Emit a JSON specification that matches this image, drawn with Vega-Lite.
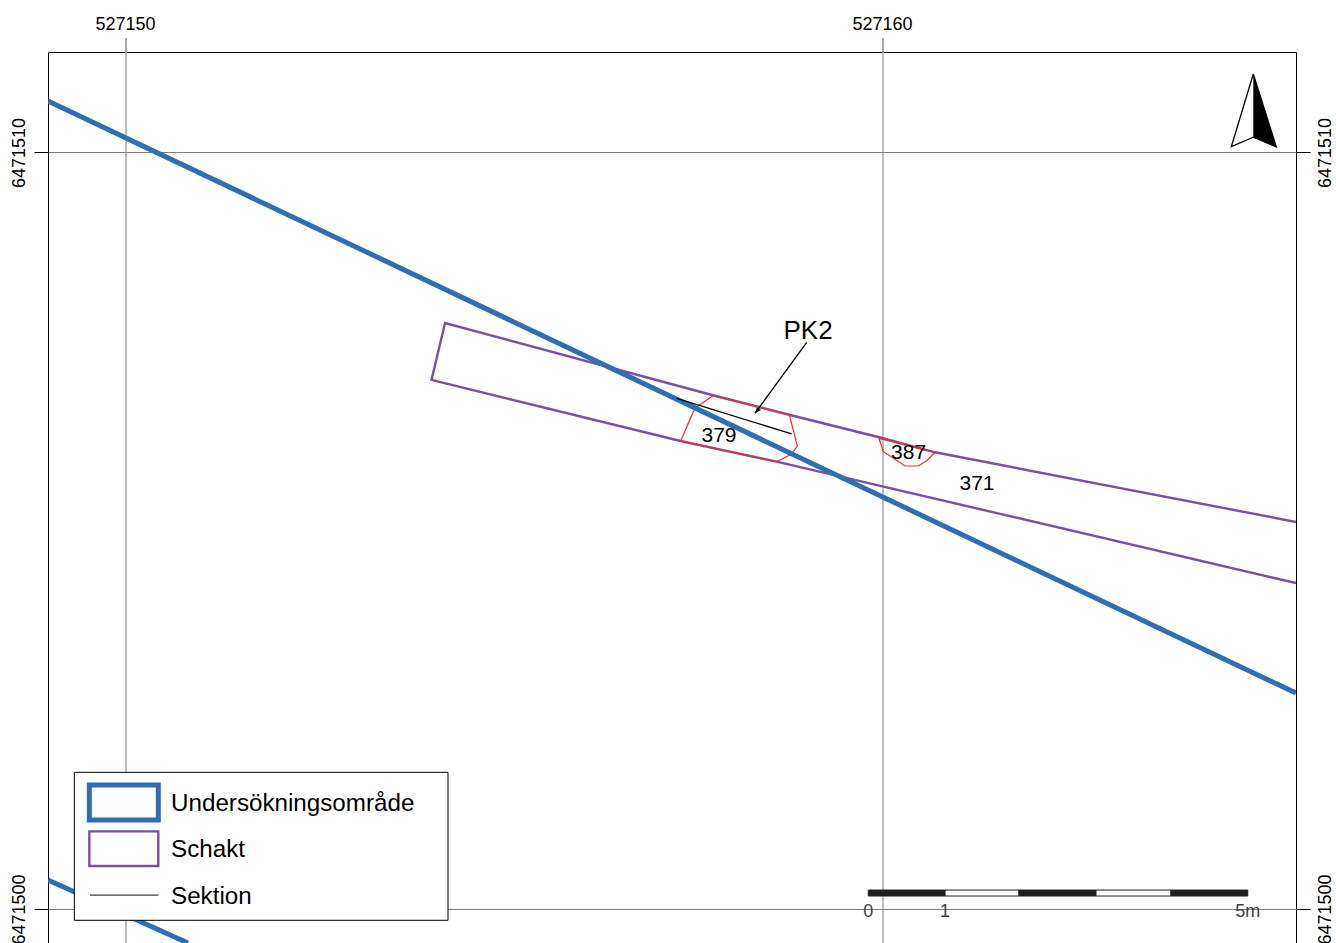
{"$schema":"https://vega.github.io/schema/vega-lite/v6.json","width":1248,"height":891,"autosize":"none","padding":{"left":48,"top":52,"right":40,"bottom":0},"background":"#ffffff","view":{"stroke":"#000000","strokeWidth":1,"fill":"#ffffff"},
"datasets":{
"lines":[
{"part":"schakt1","feature":"Schakt","seq":1,"x":527165.462,"y":6471505.116},
{"part":"schakt1","feature":"Schakt","seq":2,"x":527160.694,"y":6471506.037},
{"part":"schakt1","feature":"Schakt","seq":3,"x":527159.993,"y":6471506.226},
{"part":"schakt1","feature":"Schakt","seq":4,"x":527158.778,"y":6471506.53},
{"part":"schakt1","feature":"Schakt","seq":5,"x":527157.748,"y":6471506.794},
{"part":"schakt1","feature":"Schakt","seq":6,"x":527154.221,"y":6471507.746},
{"part":"schakt1","feature":"Schakt","seq":7,"x":527154.042,"y":6471506.993},
{"part":"schakt1","feature":"Schakt","seq":8,"x":527157.332,"y":6471506.186},
{"part":"schakt1","feature":"Schakt","seq":9,"x":527158.602,"y":6471505.913},
{"part":"schakt1","feature":"Schakt","seq":10,"x":527165.462,"y":6471504.309},
{"part":"k379","feature":"Kontext","seq":1,"x":527157.761,"y":6471506.785},
{"part":"k379","feature":"Kontext","seq":2,"x":527158.769,"y":6471506.534},
{"part":"k379","feature":"Kontext","seq":3,"x":527158.875,"y":6471506.12},
{"part":"k379","feature":"Kontext","seq":4,"x":527158.801,"y":6471506.015},
{"part":"k379","feature":"Kontext","seq":5,"x":527158.602,"y":6471505.913},
{"part":"k379","feature":"Kontext","seq":6,"x":527157.334,"y":6471506.186},
{"part":"k379","feature":"Kontext","seq":7,"x":527157.501,"y":6471506.574},
{"part":"k379","feature":"Kontext","seq":8,"x":527157.567,"y":6471506.653},
{"part":"k379","feature":"Kontext","seq":9,"x":527157.761,"y":6471506.785},
{"part":"k387","feature":"Kontext","seq":1,"x":527159.954,"y":6471506.222},
{"part":"k387","feature":"Kontext","seq":2,"x":527160.011,"y":6471506.045},
{"part":"k387","feature":"Kontext","seq":3,"x":527160.297,"y":6471505.856},
{"part":"k387","feature":"Kontext","seq":4,"x":527160.473,"y":6471505.856},
{"part":"k387","feature":"Kontext","seq":5,"x":527160.584,"y":6471505.926},
{"part":"k387","feature":"Kontext","seq":6,"x":527160.694,"y":6471506.037},
{"part":"k387","feature":"Kontext","seq":7,"x":527159.954,"y":6471506.222},
{"part":"omr1","feature":"Undersökningsområde","seq":1,"x":527148.976,"y":6471510.681},
{"part":"omr1","feature":"Undersökningsområde","seq":2,"x":527165.462,"y":6471502.855},
{"part":"omr2","feature":"Undersökningsområde","seq":1,"x":527148.976,"y":6471500.383},
{"part":"omr2","feature":"Undersökningsområde","seq":2,"x":527150.826,"y":6471499.551},
{"part":"sek1","feature":"Sektion","seq":1,"x":527157.281,"y":6471506.751},
{"part":"sek1","feature":"Sektion","seq":2,"x":527158.801,"y":6471506.279},
{"part":"call","feature":"Sektion","seq":1,"x":527158.999,"y":6471507.491},
{"part":"call","feature":"Sektion","seq":2,"x":527158.316,"y":6471506.553},
{"part":"north","feature":"Sektion","seq":1,"x":527164.898,"y":6471511.038},
{"part":"north","feature":"Sektion","seq":2,"x":527164.608,"y":6471510.077},
{"part":"north","feature":"Sektion","seq":3,"x":527164.898,"y":6471510.201},
{"part":"north","feature":"Sektion","seq":4,"x":527165.202,"y":6471510.073},
{"part":"north","feature":"Sektion","seq":5,"x":527164.898,"y":6471511.038}
],
"fills":[
{"part":"head","x":527158.316,"y":6471506.553,"y2":6471506.553},
{"part":"head","x":527158.342,"y":6471506.629,"y2":6471506.57},
{"part":"head","x":527158.395,"y":6471506.596,"y2":6471506.596},
{"part":"north","x":527164.898,"y":6471511.038,"y2":6471510.201},
{"part":"north","x":527165.202,"y":6471510.073,"y2":6471510.073}
],
"boxes":[
{"kind":"legend","x":527149.324,"x2":527154.26,"y":6471501.807,"y2":6471499.851},
{"kind":"Undersökningsområde","x":527149.522,"x2":527150.433,"y":6471501.639,"y2":6471501.176},
{"kind":"Schakt","x":527149.522,"x2":527150.433,"y":6471501.027,"y2":6471500.568},
{"kind":"black","x":527159.812,"x2":527160.826,"y":6471500.251,"y2":6471500.172},
{"kind":"white","x":527160.826,"x2":527161.803,"y":6471500.251,"y2":6471500.172},
{"kind":"black","x":527161.803,"x2":527162.82,"y":6471500.251,"y2":6471500.172},
{"kind":"white","x":527162.82,"x2":527163.811,"y":6471500.251,"y2":6471500.172},
{"kind":"black","x":527163.811,"x2":527164.825,"y":6471500.251,"y2":6471500.172}
],
"keyline":[
{"seq":1,"x":527149.531,"y":6471500.185},
{"seq":2,"x":527150.433,"y":6471500.185}
],
"labels":[
{"group":"map","text":"379","x":527157.84,"y":6471506.266},
{"group":"map","text":"387","x":527160.344,"y":6471506.041},
{"group":"map","text":"371","x":527161.248,"y":6471505.631},
{"group":"title","text":"PK2","x":527159.016,"y":6471507.654},
{"group":"legend","text":"Undersökningsområde","x":527150.601,"y":6471501.401},
{"group":"legend","text":"Schakt","x":527150.601,"y":6471500.793},
{"group":"legend","text":"Sektion","x":527150.601,"y":6471500.178},
{"group":"scale","text":"0","x":527159.812,"y":6471499.96},
{"group":"scale","text":"1","x":527160.826,"y":6471499.96},
{"group":"scale","text":"5m","x":527164.825,"y":6471499.96}
]},
"encoding":{"x":{"field":"x","type":"quantitative","scale":{"domain":[527148.976,527165.462],"nice":false,"zero":false},"axis":{"orient":"top","values":[527150,527160],"format":"d","title":null,"domain":false,"grid":true,"gridColor":"#a8a8a8","gridWidth":1.5,"tickColor":"#8c8c8c","tickWidth":1.5,"tickSize":14,"translate":0,"labelFont":"Liberation Sans","labelFontSize":18,"labelColor":"#000000","labelPadding":4}}},
"layer":[
{"data":{"name":"lines"},"mark":{"type":"line","clip":true,"strokeJoin":"miter","strokeMiterLimit":10},
"encoding":{
"y":{"field":"y","type":"quantitative","scale":{"domain":[6471499.551,6471511.328],"nice":false,"zero":false},"axis":{"orient":"left","values":[6471500,6471510],"format":"d","title":null,"domain":false,"grid":true,"gridColor":"#808080","gridWidth":1,"tickColor":"#000000","tickWidth":1,"tickSize":14,"labelAngle":-90,"labelFont":"Liberation Sans","labelFontSize":18,"labelColor":"#000000","labelPadding":6}},
"detail":{"field":"part"},
"order":{"field":"seq"},
"color":{"field":"feature","type":"nominal","legend":null,"scale":{"domain":["Schakt","Kontext","Undersökningsområde","Sektion"],"range":["#7b4fa3","#ee2d2d","#2f6db5","#000000"]}},
"strokeWidth":{"field":"feature","type":"nominal","legend":null,"scale":{"type":"ordinal","domain":["Schakt","Kontext","Undersökningsområde","Sektion"],"range":[2.4,1.2,5,1.3]}}
}},
{"data":{"name":"fills"},"mark":{"type":"area","color":"#000000","clip":true},
"encoding":{
"y":{"field":"y","type":"quantitative","axis":{"orient":"right","values":[6471500,6471510],"format":"d","title":null,"domain":false,"grid":false,"tickColor":"#000000","tickWidth":1,"tickSize":14,"labelAngle":-90,"labelFont":"Liberation Sans","labelFontSize":18,"labelColor":"#000000","labelPadding":6}},
"y2":{"field":"y2"},
"detail":{"field":"part"}
}},
{"data":{"name":"boxes"},"mark":{"type":"rect"},
"encoding":{
"x2":{"field":"x2"},
"y":{"field":"y","type":"quantitative","axis":null},"y2":{"field":"y2"},
"fill":{"field":"kind","type":"nominal","legend":null,"scale":{"domain":["legend","Undersökningsområde","Schakt","black","white"],"range":["#ffffff","#ffffff","#ffffff","#1f1f1f","#ffffff"]}},
"stroke":{"field":"kind","type":"nominal","legend":null,"scale":{"domain":["legend","Undersökningsområde","Schakt","black","white"],"range":["#000000","#2f6db5","#7b4fa3","#1f1f1f","#1f1f1f"]}},
"strokeWidth":{"field":"kind","type":"nominal","legend":null,"scale":{"type":"ordinal","domain":["legend","Undersökningsområde","Schakt","black","white"],"range":[1,5,2.4,1,1]}}
}},
{"data":{"name":"keyline"},"mark":{"type":"line","color":"#404040","strokeWidth":1.2},
"encoding":{"y":{"field":"y","type":"quantitative","axis":null},"order":{"field":"seq"}}},
{"data":{"name":"labels"},"transform":[{"filter":{"field":"group","equal":"map"}}],"mark":{"type":"text","font":"Liberation Sans","fontSize":21,"color":"#000000","align":"center","baseline":"middle","dy":1},
"encoding":{"y":{"field":"y","type":"quantitative","axis":null},"text":{"field":"text"}}},
{"data":{"name":"labels"},"transform":[{"filter":{"field":"group","equal":"title"}}],"mark":{"type":"text","font":"Liberation Sans","fontSize":26,"color":"#000000","align":"center","baseline":"middle","dy":1},
"encoding":{"y":{"field":"y","type":"quantitative","axis":null},"text":{"field":"text"}}},
{"data":{"name":"labels"},"transform":[{"filter":{"field":"group","equal":"legend"}}],"mark":{"type":"text","font":"Liberation Sans","fontSize":24.2,"color":"#000000","align":"left","baseline":"middle","dy":1},
"encoding":{"y":{"field":"y","type":"quantitative","axis":null},"text":{"field":"text"}}},
{"data":{"name":"labels"},"transform":[{"filter":{"field":"group","equal":"scale"}}],"mark":{"type":"text","font":"Liberation Sans","fontSize":18,"color":"#404040","align":"center","baseline":"middle"},
"encoding":{"y":{"field":"y","type":"quantitative","axis":null},"text":{"field":"text"}}}
],
"resolve":{"axis":{"y":"independent"},"scale":{"strokeWidth":"independent"}}
}
